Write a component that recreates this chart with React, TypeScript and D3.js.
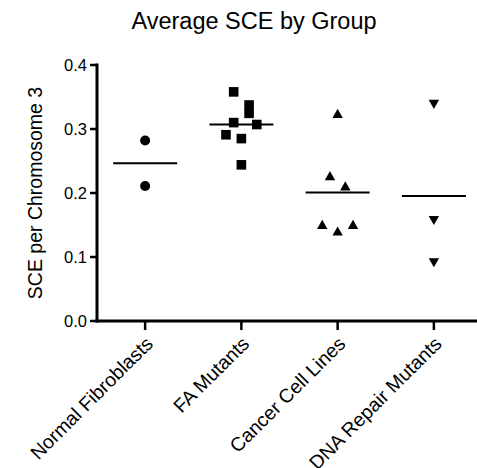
import { useEffect } from 'react'
import * as d3 from 'd3'

const CATEGORIES = ['Normal Fibroblasts', 'FA Mutants', 'Cancer Cell Lines', 'DNA Repair Mutants']
const NORMAL = [0.282, 0.211]
const FA = [0.358, 0.3375, 0.31, 0.3245, 0.291, 0.285, 0.307, 0.244]
const CANCER = [0.3245, 0.227, 0.211, 0.151, 0.1406, 0.151]
const DNA_REPAIR = [0.3385, 0.157, 0.091]
const Y_TICKS = [0, 0.1, 0.2, 0.3, 0.4]
const SHAPES = ['circle', 'square', 'up', 'down']

const W = 477, H = 468
const M = { top: 65, left: 97, bottom: 147 }
const FONT = 'Liberation Sans, Arial, sans-serif'

// prism-like scatter: points in the same y bin get spread out symmetrically
function lanes(vals: number[]) {
  const bin = (v: number) => Math.floor((v - 0.0225) / 0.026)
  const groups = d3.group(vals.map((v, i) => ({ v, i })), d => bin(d.v))
  const out: number[] = new Array(vals.length).fill(0)
  groups.forEach(g => g.forEach((d, k) => { out[d.i] = -(g.length - 1) + 2 * k }))
  return out
}

function marker(shape: string) {
  if (shape === 'circle') return <circle r={5} />
  if (shape === 'square') return <rect x={-4.8} y={-4.8} width={9.6} height={9.6} />
  if (shape === 'up') return <path d="M0,-4.6L5.2,4.6L-5.2,4.6Z" />
  return <path d="M0,4.6L5.2,-4.6L-5.2,-4.6Z" />
}

export default function App() {
  useEffect(() => { document.body.style.margin = '0' }, [])
  const series = [NORMAL, FA, CANCER, DNA_REPAIR]
  const x = d3.scalePoint<string>().domain(CATEGORIES).range([M.left, M.left + 385]).padding(0.5)
  const y = d3.scaleLinear().domain([0, 0.4]).range([H - M.bottom - 0 + 0, M.top]).nice()
  const y0 = y(0)
  const fmt = d3.format('.1f')
  const lane = 7.7

  return (
    <svg width={W} height={H} style={{ display: 'block', fontFamily: FONT }}>
      <text x={254} y={29} textAnchor="middle" fontSize={23.5}>Average SCE by Group</text>
      <text transform={`translate(42,${(M.top + y0) / 2}) rotate(-90)`} textAnchor="middle" fontSize={19.5}>SCE per Chromosome 3</text>

      {/* y axis */}
      <line x1={M.left} x2={M.left} y1={M.top - 1.5} y2={y0 + 1.5} stroke="#000" strokeWidth={3} />
      {Y_TICKS.map(t => (
        <g key={t} transform={`translate(0,${y(t)})`}>
          <line x1={M.left - 7} x2={M.left} stroke="#000" strokeWidth={2.5} />
          <text x={M.left - 10} dy="0.35em" textAnchor="end" fontSize={16.5}>{fmt(t)}</text>
        </g>
      ))}

      {/* x axis */}
      <line x1={M.left - 1.5} x2={W + 10} y1={y0} y2={y0} stroke="#000" strokeWidth={3} />
      {CATEGORIES.map(c => (
        <g key={c} transform={`translate(${x(c)},${y0})`}>
          <line y1={0} y2={9} stroke="#000" strokeWidth={2.5} />
          <text transform="translate(9,24) rotate(-45)" textAnchor="end" fontSize={19.5}>{c}</text>
        </g>
      ))}

      {/* points + means */}
      {series.map((vals, si) => {
        const cx = x(CATEGORIES[si])!
        const ln = lanes(vals)
        const mean = d3.mean(vals)!
        return (
          <g key={si}>
            {vals.map((v, i) => (
              <g key={i} transform={`translate(${cx + ln[i] * lane},${y(v)})`} fill="#000">{marker(SHAPES[si])}</g>
            ))}
            <line x1={cx - 32} x2={cx + 32} y1={y(mean)} y2={y(mean)} stroke="#000" strokeWidth={2} />
          </g>
        )
      })}
    </svg>
  )
}
